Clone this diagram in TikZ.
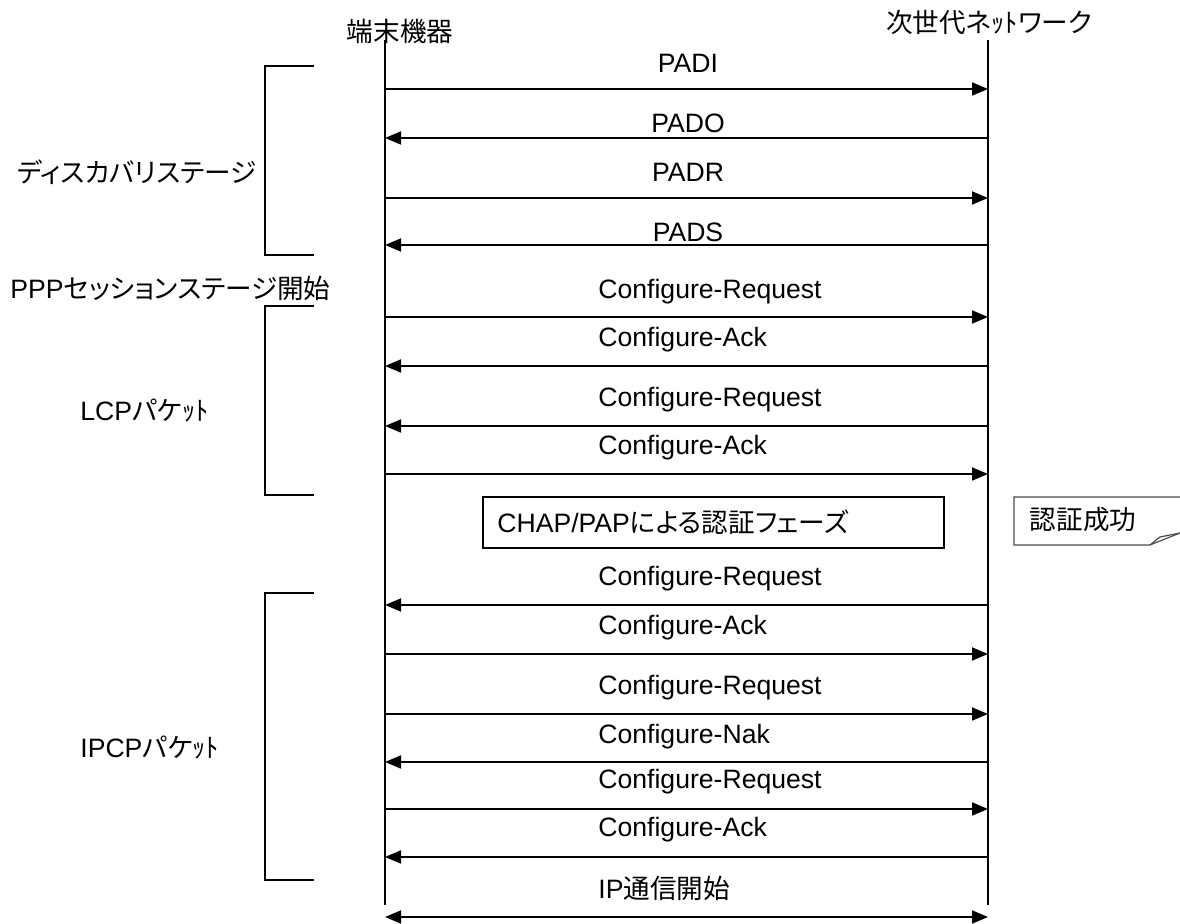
\documentclass[tikz,border=0pt]{standalone}
\usepackage{fontspec}
\setmainfont{Liberation Sans}
\newfontfamily\jp[RawFeature=+palt]{Noto Sans CJK JP}
\usetikzlibrary{arrows.meta}

\tikzset{
	lifeline/.style={line width=1pt},
	msg/.style={line width=0.9pt},
	torgt/.style={-{Triangle[length=8pt,width=6.5pt]}},
	tolft/.style={{Triangle[length=8pt,width=6.5pt]}-},
	tboth/.style={{Triangle[length=8pt,width=6.5pt]}-{Triangle[length=8pt,width=6.5pt]}},
	bracket/.style={line width=0.9pt},
	every node/.style={font=\fontsize{13.3}{16}\selectfont, inner sep=0pt},
}

\begin{document}
\begin{tikzpicture}[x=0.5pt, y=-0.5pt]
			%%%%% START %%%%%
			\useasboundingbox (0, 0) rectangle (1180, 924);
			
			% lifelines
			\node (term) at (400, 31) {\jp 端末機器};
			\node (ngn) at (989, 22) {\jp 次世代ネｯﾄワーク};
			\coordinate (termtop) at (385, 40);
			\coordinate (termbot) at (385, 905);
			\coordinate (ngntop) at (988, 40);
			\coordinate (ngnbot) at (988, 905);
			\draw[lifeline] (termtop) -- (termbot);
			\draw[lifeline] (ngntop) -- (ngnbot);
			
			% discovery messages
			\foreach \i/\y/\ly/\dir/\txt in {1/89/63/torgt/PADI, 2/138/123/tolft/PADO,
					3/198/172/torgt/PADR, 4/245/232/tolft/PADS} {
				\coordinate (L\i) at (385, \y);
				\coordinate (R\i) at (988, \y);
				\draw[msg, \dir] (L\i) -- (R\i);
				\node (m\i) at (688, \ly) {\txt};
			}
			
			% LCP and IPCP messages
			\foreach \i/\y/\ly/\dir/\txt in {5/317/292/torgt/Configure-Request, 6/366/340/tolft/Configure-Ack,
					7/426/400/tolft/Configure-Request, 8/474/448/torgt/Configure-Ack,
					9/605/579/tolft/Configure-Request, 10/654/628/torgt/Configure-Ack,
					11/714/688/torgt/Configure-Request, 12/762/737/tolft/Configure-Nak,
					13/809/782/torgt/Configure-Request, 14/857/830/tolft/Configure-Ack} {
				\coordinate (L\i) at (385, \y);
				\coordinate (R\i) at (988, \y);
				\draw[msg, \dir] (L\i) -- (R\i);
				\node[anchor=west] (m\i) at (598, \ly) {\txt};
			}
			
			% IP start
			\coordinate (Lip) at (385, 917);
			\coordinate (Rip) at (988, 917);
			\draw[msg, tboth] (Lip) -- (Rip);
			\node[anchor=west] (ipstart) at (598, 888) {IP\jp 通信開始};
			
			% authentication phase
			\draw[line width=0.9pt] (483, 497) rectangle (944, 548);
			\node[anchor=west] (chap) at (497, 522) {CHAP/PAP\jp による認証フェーズ};
			
			\draw[line width=0.6pt, color=black!70] (1180, 497) -- (1014, 497) -- (1014, 545) -- (1150, 545) -- (1180, 533);
			\draw[line width=0.6pt, color=black!70] (1150, 545) -- (1160, 537) -- (1180, 533);
			\node (authok) at (1083, 520) {\jp 認証成功};
			
			% stage brackets
			\draw[bracket] (314, 66) -- (265, 66) -- (265, 255) -- (314, 255);
			\draw[bracket] (314, 306) -- (265, 306) -- (265, 495) -- (314, 495);
			\draw[bracket] (314, 593) -- (265, 593) -- (265, 880) -- (314, 880);
			
			\node (disc) at (137, 172) {\jp ディスカバリステージ};
			\node[anchor=west] (pppstart) at (10, 288) {PPP\jp セッションステージ開始};
			\node[anchor=west] (lcp) at (80, 411) {LCP\jp パケｯﾄ};
			\node[anchor=west] (ipcp) at (80, 748) {IPCP\jp パケｯﾄ};
			
			%%%%% END %%%%%
		\end{tikzpicture}
\end{document}
